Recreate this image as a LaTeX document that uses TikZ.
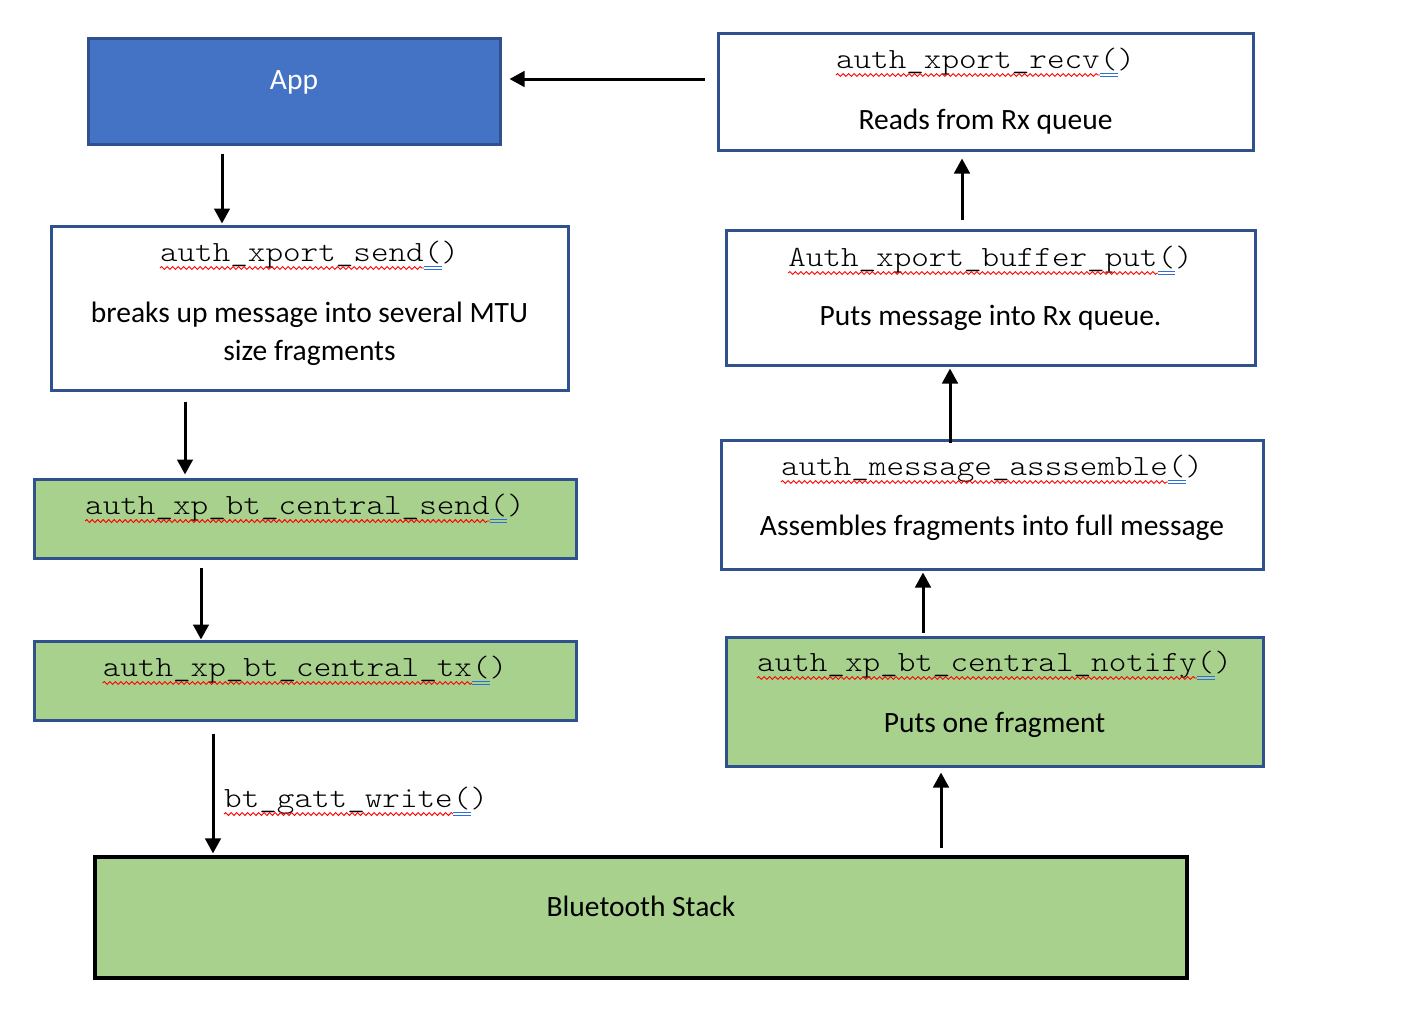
\documentclass[tikz,border=0pt]{standalone}
\usepackage{fontspec}
\setmainfont{Carlito}
\newfontfamily\monof[Extension=.otf, FakeStretch=1.143]{lmmonolt10-regular}
\usetikzlibrary{arrows.meta,decorations.pathmorphing}
\definecolor{bordc}{HTML}{2F528F}
\definecolor{appfill}{HTML}{4472C4}
\definecolor{greenfill}{HTML}{A9D18E}
\definecolor{spellblue}{HTML}{2E6FE0}
\def\cw{17.58bp}
\tikzset{
  boxbase/.style={rectangle, inner sep=0pt, line width=3bp},
  whitebox/.style={boxbase, draw=bordc, fill=white},
  greenbox/.style={boxbase, draw=bordc, fill=greenfill},
  appbox/.style={boxbase, draw=bordc, fill=appfill},
  stackbox/.style={boxbase, draw=black, line width=3.2bp, fill=greenfill},
  mono/.style={inner sep=0pt, font=\monof\fontsize{29.3bp}{35bp}\selectfont},
  sans/.style={inner sep=0pt, font=\fontsize{29.5bp}{35bp}\selectfont},
  arr/.style={line width=3bp, -{Triangle[length=15bp,width=15.5bp]}},
  squig/.style={draw=red, line width=0.9bp, decorate, decoration={snake, amplitude=1.4bp, segment length=5.5bp}},
  dblline/.style={draw=spellblue, line width=0.9bp},
}
\newcommand{\boxnode}[6]{%
  \node[#6, minimum width={(#4-#2)*1bp}, minimum height={(#5-#3)*1bp}] (#1) at ({(#2+#4)/2},{(#3+#5)/2}) {};}
\newcommand{\codelabel}[5]{% name, x, y, anchor, text
  \node[mono, anchor=#4] (#1) at (#2,#3) {#5};
  \draw[squig] ([yshift=-7bp]#1.base west) -- ([xshift=-2*\cw, yshift=-7bp]#1.base east);
  \draw[dblline] ([xshift=-2*\cw,yshift=-5bp]#1.base east) -- ([xshift=-\cw,yshift=-5bp]#1.base east);
  \draw[dblline] ([xshift=-2*\cw,yshift=-8bp]#1.base east) -- ([xshift=-\cw,yshift=-8bp]#1.base east);}
\begin{document}
\begin{tikzpicture}[x=1bp, y=-1bp]
\useasboundingbox (0,0) rectangle (1420,1032);

% boxes
\boxnode{app}{88}{38}{500}{144}{appbox}
\boxnode{send}{51}{226}{568}{390}{whitebox}
\boxnode{csend}{34}{479}{576}{558}{greenbox}
\boxnode{ctx}{34}{641}{576}{720}{greenbox}
\boxnode{bt}{95}{857}{1187}{978}{stackbox}
\boxnode{recv}{718}{33}{1253}{150}{whitebox}
\boxnode{buf}{726}{230}{1255}{365}{whitebox}
\boxnode{asm}{721}{440}{1263}{569}{whitebox}
\boxnode{notify}{726}{637}{1263}{766}{greenbox}

% texts
\node[sans, anchor=base, text=white] (appT) at (294,89) {App};
\codelabel{sendC}{309.5}{261}{base}{auth\_xport\_send()}
\node[sans, anchor=base] (sendT1) at (309.5,322) {breaks up message into several MTU};
\node[sans, anchor=base] (sendT2) at (309.5,360) {size fragments};
\codelabel{csendC}{305}{514}{base}{auth\_xp\_bt\_central\_send()}
\codelabel{ctxC}{305}{676}{base}{auth\_xp\_bt\_central\_tx()}
\node[sans, anchor=base] (btT) at (641,916) {Bluetooth Stack};
\codelabel{recvC}{985.5}{68}{base}{auth\_xport\_recv()}
\node[sans, anchor=base] (recvT) at (985.5,129) {Reads from Rx queue};
\codelabel{bufC}{990.5}{266}{base}{Auth\_xport\_buffer\_put()}
\node[sans, anchor=base] (bufT) at (990.5,325) {Puts message into Rx queue.};
\codelabel{asmC}{992}{475}{base}{auth\_message\_asssemble()}
\node[sans, anchor=base] (asmT) at (992,535) {Assembles fragments into full message};
\codelabel{notifyC}{994.5}{671}{base}{auth\_xp\_bt\_central\_notify()}
\node[sans, anchor=base] (notifyT) at (994.5,732) {Puts one fragment};
\codelabel{gattC}{224}{807}{base west}{bt\_gatt\_write()}

% connector x/y levels
\coordinate (yA) at (0,79);
\coordinate (x1) at (222,0);
\coordinate (x2) at (185,0);
\coordinate (x3) at (201,0);
\coordinate (x4) at (213,0);
\coordinate (x5) at (941,0);
\coordinate (x6) at (923,0);
\coordinate (x7) at (950,0);
\coordinate (x8) at (962,0);

% connectors
\draw[arr, shorten <=12bp, shorten >=8bp] (recv.west |- yA) -- (app.east |- yA);
\draw[arr, shorten <=8bp, shorten >=1bp] (app.south -| x1) -- (send.north -| x1);
\draw[arr, shorten <=10bp, shorten >=3bp] (send.south -| x2) -- (csend.north -| x2);
\draw[arr, shorten <=8bp, shorten >=0bp] (csend.south -| x3) -- (ctx.north -| x3);
\draw[arr, shorten <=12bp, shorten >=2bp] (ctx.south -| x4) -- (bt.north -| x4);
\draw[arr, shorten <=7bp, shorten >=5bp] (bt.north -| x5) -- (notify.south -| x5);
\draw[arr, shorten <=3bp, shorten >=2bp] (notify.north -| x6) -- (asm.south -| x6);
\draw[arr, shorten <=-4bp, shorten >=2bp] (asm.north -| x7) -- (buf.south -| x7);
\draw[arr, shorten <=9bp, shorten >=7bp] (buf.north -| x8) -- (recv.south -| x8);
\end{tikzpicture}
\end{document}
